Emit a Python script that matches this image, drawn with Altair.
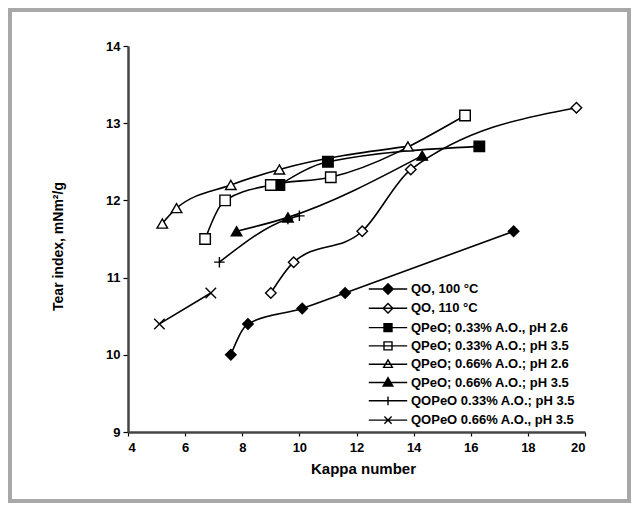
import altair as alt
import pandas as pd

series_names = [
    "QO, 100 °C",
    "QO, 110 °C",
    "QPeO; 0.33% A.O., pH 2.6",
    "QPeO; 0.33% A.O.; pH 3.5",
    "QPeO; 0.66% A.O.; pH 2.6",
    "QPeO; 0.66% A.O.; pH 3.5",
    "QOPeO 0.33% A.O.; pH 3.5",
    "QOPeO 0.66% A.O., pH 3.5",
]

kappa_qo100 = [7.6, 8.2, 10.1, 11.6, 17.5]
tear_qo100 = [10.0, 10.4, 10.6, 10.8, 11.6]

kappa_qo110 = [9.0, 9.8, 12.2, 13.9, 19.7]
tear_qo110 = [10.8, 11.2, 11.6, 12.4, 13.2]

kappa_qpeo33_26 = [9.3, 11.0, 16.3]
tear_qpeo33_26 = [12.2, 12.5, 12.7]

kappa_qpeo33_35 = [6.7, 7.4, 9.0, 11.1, 15.8]
tear_qpeo33_35 = [11.5, 12.0, 12.2, 12.3, 13.1]

kappa_qpeo66_26 = [5.2, 5.7, 7.6, 9.3, 13.8]
tear_qpeo66_26 = [11.7, 11.9, 12.2, 12.4, 12.7]

kappa_qpeo66_35 = [7.8, 9.6, 14.3]
tear_qpeo66_35 = [11.6, 11.78, 12.58]

kappa_qopeo33 = [7.2, 9.6, 10.0]
tear_qopeo33 = [11.2, 11.76, 11.8]

kappa_qopeo66 = [5.1, 6.9]
tear_qopeo66 = [10.4, 10.8]

all_kappa = [kappa_qo100, kappa_qo110, kappa_qpeo33_26, kappa_qpeo33_35,
             kappa_qpeo66_26, kappa_qpeo66_35, kappa_qopeo33, kappa_qopeo66]
all_tear = [tear_qo100, tear_qo110, tear_qpeo33_26, tear_qpeo33_35,
            tear_qpeo66_26, tear_qpeo66_35, tear_qopeo33, tear_qopeo66]

x_ticks = [4, 6, 8, 10, 12, 14, 16, 18, 20]
y_ticks = [9, 10, 11, 12, 13, 14]

rows = []
for name, xs, ys in zip(series_names, all_kappa, all_tear):
    for xv, yv in zip(xs, ys):
        rows.append({"series": name, "kappa": xv, "tear": yv})
df = pd.DataFrame(rows)
leg_df = df.groupby("series", sort=False).first().reset_index()

FONT = "Liberation Sans"

main_shapes = [
    "diamond", "diamond", "square", "square", "triangle-up", "triangle-up",
    "M0,-1L0,1M-1,0L1,0", "M-1,-1L1,1M-1,1L1,-1",
]
fills = ["black", "white", "black", "white", "white", "black", "white", "white"]

line_part = "M-2.4,0L2.4,0"
legend_shapes = [
    line_part + "M0,-0.65L0.65,0L0,0.65L-0.65,0Z",
    line_part + "M0,-0.6L0.6,0L0,0.6L-0.6,0Z",
    line_part + "M-0.5,-0.5L0.5,-0.5L0.5,0.5L-0.5,0.5Z",
    line_part + "M-0.5,-0.5L0.5,-0.5L0.5,0.5L-0.5,0.5Z",
    line_part + "M0,-0.55L0.55,0.4L-0.55,0.4Z",
    line_part + "M0,-0.6L0.6,0.45L-0.6,0.45Z",
    line_part + "M0,-0.55L0,0.55",
    line_part + "M-0.45,-0.45L0.45,0.45M-0.45,0.45L0.45,-0.45",
]

x_scale = alt.Scale(domain=[4, 20], nice=False, zero=False)
y_scale = alt.Scale(domain=[9, 14], nice=False, zero=False)

x_enc = alt.X(
    "kappa:Q", scale=x_scale,
    axis=alt.Axis(
        values=x_ticks, format="d", title="Kappa number",
        titleFont=FONT, titleFontSize=15, titleFontWeight="bold", titleColor="black",
        titleX=235, titleY=29, titleBaseline="top",
        labelFont=FONT, labelFontSize=13, labelFontWeight="bold", labelColor="black",
        labelPadding=5, tickSize=4, tickColor="black", tickWidth=1.2,
        domainColor="#444", domainWidth=2.5, grid=False,
    ),
)
y_enc = alt.Y(
    "tear:Q", scale=y_scale,
    axis=alt.Axis(
        values=y_ticks, format="d", title="Tear index, mNm²/g",
        titleFont=FONT, titleFontSize=14, titleFontWeight="bold", titleColor="black",
        titleX=-70, titleY=200, titleAngle=270, titleAlign="center", titleBaseline="middle",
        labelFont=FONT, labelFontSize=13, labelFontWeight="bold", labelColor="black",
        labelPadding=3, tickSize=5, tickColor="black", tickWidth=1.2,
        domainColor="#444", domainWidth=2.5, grid=False,
    ),
)

frame = alt.Chart(pd.DataFrame({"f": [0]})).mark_rect(
    filled=False, stroke="#a8a8a8", strokeWidth=4
).encode(
    x=alt.value(-118), x2=alt.value(501), y=alt.value(-36), y2=alt.value(455)
)

lines = alt.Chart(df).mark_line(
    interpolate="monotone", color="black", strokeWidth=1.6
).encode(x=x_enc, y=y_enc, detail="series:N")

points = alt.Chart(df).mark_point(
    filled=True, stroke="black", strokeWidth=1.4, size=110, opacity=1
).encode(
    x=x_enc, y=y_enc,
    shape=alt.Shape("series:N", scale=alt.Scale(domain=series_names, range=main_shapes), legend=None),
    fill=alt.Fill("series:N", scale=alt.Scale(domain=series_names, range=fills), legend=None),
)

legend_props = dict(
    title=None, orient="none", legendX=251, legendY=234,
    symbolSize=256, symbolStrokeWidth=1.4, symbolOpacity=1,
    labelFont=FONT, labelFontSize=13, labelFontWeight="bold", labelColor="black",
    labelOffset=14, rowPadding=2.3, padding=0, labelLimit=400,
)

legend_layer = alt.Chart(leg_df).mark_point(
    filled=True, opacity=0, size=256, stroke="black", strokeWidth=1.4
).encode(
    x=x_enc, y=y_enc,
    shape=alt.Shape("series:N", scale=alt.Scale(domain=series_names, range=legend_shapes),
                    legend=alt.Legend(**legend_props)),
    fill=alt.Fill("series:N", scale=alt.Scale(domain=series_names, range=fills),
                  legend=alt.Legend(**legend_props)),
)

chart = alt.layer(frame, lines, points, legend_layer).resolve_scale(
    shape="independent", fill="independent"
).properties(
    width=457, height=386,
    autosize=alt.AutoSizeParams(type="none"),
    padding={"left": 120, "top": 38, "right": 46, "bottom": 71},
    background="white",
).configure_view(stroke=None)

chart.save("out.html", embed_options={"renderer": "svg", "actions": False})
